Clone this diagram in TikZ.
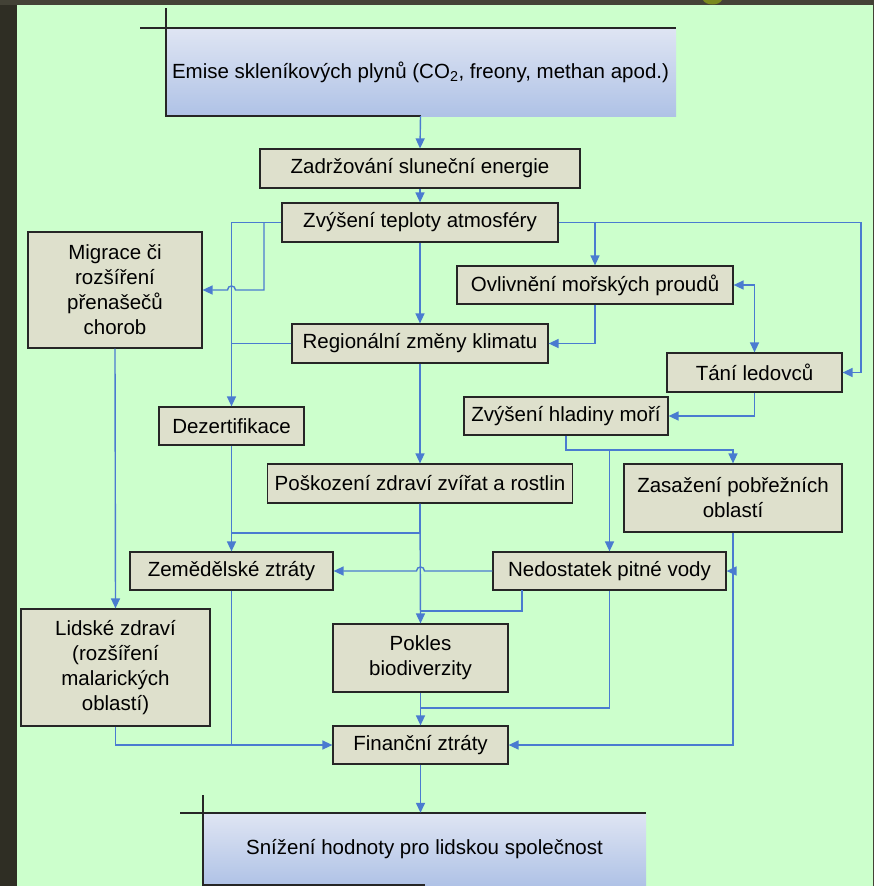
\documentclass[tikz,border=0pt]{standalone}
\usepackage{fontspec}
\setmainfont{Liberation Sans}
\usetikzlibrary{arrows.meta}
\definecolor{frame}{HTML}{434236}
\definecolor{framedark}{HTML}{2F2E24}
\definecolor{paper}{HTML}{CCFFCC}
\definecolor{boxfill}{HTML}{DEE0CC}
\definecolor{boxline}{HTML}{262626}
\definecolor{flow}{HTML}{4A7BD0}
\definecolor{gradtop}{HTML}{DFE5F3}
\definecolor{gradbot}{HTML}{AFC2E6}
\definecolor{leaf}{HTML}{7A8A1E}
\begin{document}
\begin{tikzpicture}[x=1pt,y=-1pt,
  every node/.style={font=\fontsize{20.5}{25}\selectfont, align=center, inner sep=0pt},
  cbox/.style={draw=boxline, line width=1.2pt, fill=boxfill, rectangle},
  gbox/.style={rectangle, top color=gradtop, bottom color=gradbot},
  link/.style={draw=flow, line width=1.4pt},
  conn/.style={link, -{Triangle[length=10pt,width=9pt]}},
  both/.style={link, {Triangle[length=10pt,width=9pt]}-{Triangle[length=10pt,width=9pt]}},
  rim/.style={draw=boxline, line width=1.3pt}]

% page and background
\useasboundingbox (0,0) rectangle (874,886);
\fill[frame] (0,0) rectangle (874,886);
\fill[framedark] (0,5) rectangle (17,886);
\fill[paper] (17,5) rectangle (873,886);
\fill[leaf] (703,0) .. controls (706,6) and (719,6) .. (722,0) -- cycle;

% top and bottom banners
\node[gbox, minimum width=511pt, minimum height=88pt] (emi) at (420.5,72)
  {Emise skleníkových plynů (CO\textsubscript{2}, freony, methan apod.)};
\draw[rim] (140,28) -- (676,28);
\draw[rim] (166,8) -- (166,116) -- (421,116);

\node[gbox, minimum width=443pt, minimum height=73pt] (sni) at (424.5,849.5)
  {Snížení hodnoty pro lidskou společnost};
\draw[rim] (180,813) -- (646,813);
\draw[rim] (203,795) -- (203,886);
\draw[rim] (203,885) -- (425,885);

% boxes
\node[cbox, minimum width=320pt, minimum height=39pt] (zad) at (420,168.5) {Zadržování sluneční energie};
\node[cbox, minimum width=276pt, minimum height=39pt] (zvy) at (420,222.5) {Zvýšení teploty atmosféry};
\node[cbox, minimum width=174pt, minimum height=116pt] (mig) at (115,290) {Migrace či\\rozšíření\\přenašečů\\chorob};
\node[cbox, minimum width=276pt, minimum height=38pt] (ovl) at (595,285) {Ovlivnění mořských proudů};
\node[cbox, minimum width=256pt, minimum height=39pt] (reg) at (420,343.5) {Regionální změny klimatu};
\node[cbox, minimum width=175pt, minimum height=39pt] (tan) at (754.5,372.5) {Tání ledovců};
\node[cbox, minimum width=145pt, minimum height=38pt] (dez) at (231.5,426) {Dezertifikace};
\node[cbox, minimum width=204pt, minimum height=38pt] (hla) at (566,416) {Zvýšení hladiny moří};
\node[cbox, minimum width=305pt, minimum height=39pt] (pos) at (420,483.5) {Poškození zdraví zvířat a rostlin};
\node[cbox, minimum width=218pt, minimum height=68pt] (zas) at (733,498) {Zasažení pobřežních\\oblastí};
\node[cbox, minimum width=203pt, minimum height=38pt] (zem) at (231.5,571) {Zemědělské ztráty};
\node[cbox, minimum width=233pt, minimum height=38pt] (ned) at (609.5,571) {Nedostatek pitné vody};
\node[cbox, minimum width=189pt, minimum height=117pt] (lid) at (115.5,667.5) {Lidské zdraví\\(rozšíření\\malarických\\oblastí)};
\node[cbox, minimum width=175pt, minimum height=68pt] (pok) at (420.5,658) {Pokles\\biodiverzity};
\node[cbox, minimum width=175pt, minimum height=38pt] (fin) at (420.5,745) {Finanční ztráty};

% routing points
\coordinate (jmig) at (264,222.5);
\coordinate (jovl) at (ovl.north |- zvy.east);
\coordinate (jhla) at (566,450);
\coordinate (jned) at (ned.north |- jhla);

% connectors
\draw[conn] (emi.south) -- (zad.north);
\draw[conn] (zad.south) -- (zvy.north);
\draw[conn] (zvy.south) -- (reg.north);
\draw[conn] (zvy.west) -| (dez.north);
\draw[conn] (jmig) -- (264,290) -- (235.5,290)
  .. controls (235.5,284.7) and (227.5,284.7) .. (227.5,290) -- (mig.east);
\draw[link] (reg.west) -- (reg.west -| dez.north);
\draw[conn] (zvy.east) -- (861,222.5) |- (tan.east);
\draw[conn] (jovl) -- (ovl.north);
\draw[conn] (ovl.south) |- (reg.east);
\draw[both] (ovl.east) -| (tan.north);
\draw[conn] (tan.south) |- (hla.east);
\draw[conn] (hla.south -| jhla) -- (jhla) -| (zas.north);
\draw[conn] (jned) -- (ned.north);
\draw[conn] (reg.south) -- (pos.north);
\draw[conn] (dez.south) -- (zem.north);
\draw[link] (pos.south) -- (420,533) -- (231.5,533);
\draw[conn] (pos.south) -- (pok.north);
\draw[conn] (ned.west) -- (424.5,571)
  .. controls (424.5,565.7) and (416.5,565.7) .. (416.5,571) -- (zem.east);
\draw[link] (522,590) -- (522,611) -- (420.5,611);
\draw[conn] (zas.south) |- (ned.east);
\draw[conn] (zas.south) |- (fin.east);
\draw[link] (ned.south) -- (609.5,708) -- (420.5,708);
\draw[conn] (pok.south) -- (fin.north);
\draw[conn] (mig.south) -- (lid.north);
\draw[conn] (lid.south) |- (fin.west);
\draw[link] (zem.south) -- (zem.south |- fin.west);
\draw[conn] (fin.south) -- (fin.south |- sni.north);
\end{tikzpicture}
\end{document}
